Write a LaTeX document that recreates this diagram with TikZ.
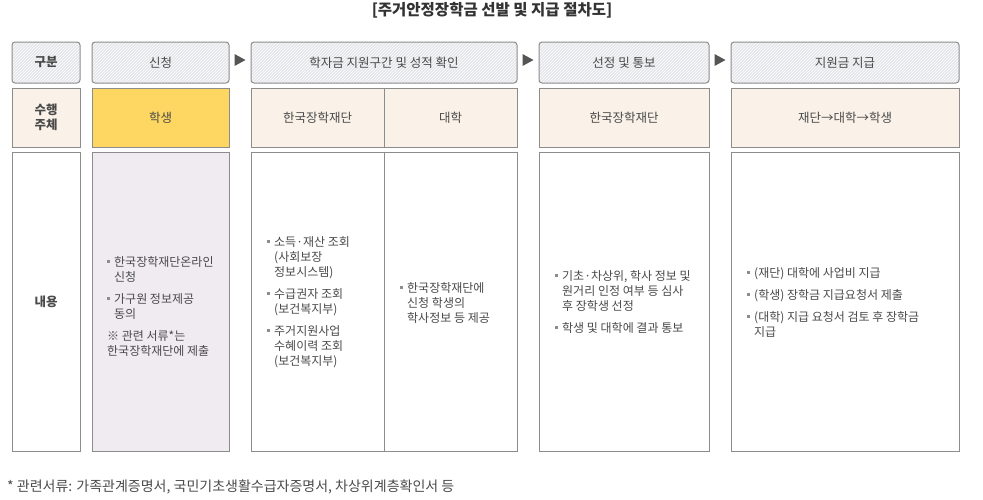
\documentclass[tikz,border=0pt]{standalone}
\usepackage{fontspec}
\setmainfont{Noto Sans CJK KR}
\usetikzlibrary{positioning,patterns,calc}

\definecolor{hdrgray}{HTML}{E4E5EA}
\definecolor{linegray}{HTML}{8C8C8C}
\definecolor{beige}{HTML}{FAF2E8}
\definecolor{stuyellow}{HTML}{FED762}
\definecolor{lavender}{HTML}{F0EBF1}
\definecolor{txtgray}{HTML}{4A4A4A}
\definecolor{tipgray}{HTML}{555555}

\newcommand\blt{\textcolor{linegray}{\rule[3.5pt]{3pt}{3pt}}\hspace{4pt}}
\newcommand\ind{\hspace*{7pt}}

\begin{document}
\begin{tikzpicture}[x=1pt, y=-1pt, font=\fontsize{12}{15}\selectfont, text=txtgray]

  \tikzstyle{cell}=[draw=linegray, line width=1pt, inner sep=0pt, align=center]
  \tikzstyle{hdr}=[cell, rounded corners=3pt, minimum height=41,
    font=\fontsize{12.5}{15}\selectfont,
    preaction={fill=hdrgray},
    pattern=north east lines, pattern color=white]
  \tikzstyle{who}=[cell, fill=beige, minimum height=59, font=\fontsize{12.5}{14.5}\selectfont]
  \tikzstyle{body}=[cell, fill=white, minimum height=299, font=\fontsize{12.5}{15}\selectfont]
  \tikzstyle{list}=[inner sep=0pt, anchor=west, align=left]
  \tikzstyle{tip}=[fill=tipgray]

  \useasboundingbox (0,0) rectangle (983,499);

  \node [font=\fontsize{15.5}{17}\selectfont\bfseries, text=black!80] (title) at (492,10)
    {[주거안정장학금 선발 및 지급 절차도]};

  % header row
  \node [hdr, minimum width=68, font=\fontsize{12.5}{15}\selectfont\bfseries] (hgubun) at (46,62.5) {구분};
  \node [hdr, minimum width=137] (happly) at (160.5,62.5) {신청};
  \node [hdr, minimum width=266] (hcheck) at (384,62.5) {학자금 지원구간 및 성적 확인};
  \node [hdr, minimum width=170] (hselect) at (624,62.5) {선정 및 통보};
  \node [hdr, minimum width=228] (hpay) at (845,62.5) {지원금 지급};

  \foreach \l/\r in {happly/hcheck, hcheck/hselect, hselect/hpay}
    \fill [tip] ($(\l.east)!0.5!(\r.west)$) ++(-5.5,-8.5) -- ++(11,6) -- ++(-11,6) -- cycle;

  % who row
  \node [who, minimum width=68, font=\fontsize{12.5}{14.5}\selectfont\bfseries] (wgubun) at (46,117.5) {수행\\주체};
  \node [who, fill=stuyellow, minimum width=137] (wapply) at (160.5,117.5) {학생};
  \node [who, minimum width=133] (wkosaf) at (317.5,117.5) {한국장학재단};
  \node [who, minimum width=133] (wuniv) at (450.5,117.5) {대학};
  \node [who, minimum width=170] (wselect) at (624,117.5) {한국장학재단};
  \node [who, minimum width=228] (wpay) at (845,117.5) {재단→대학→학생};

  % body row
  \node [body, minimum width=68, font=\fontsize{12.5}{15}\selectfont\bfseries] (bgubun) at (46,301.5) {내용};
  \node [body, fill=lavender, minimum width=137] (bapply) at (160.5,301.5) {};
  \node [body, minimum width=133] (bkosaf) at (317.5,301.5) {};
  \node [body, minimum width=133] (buniv) at (450.5,301.5) {};
  \node [body, minimum width=170] (bselect) at (624,301.5) {};
  \node [body, minimum width=228] (bpay) at (845,301.5) {};

  \node [list] (lapply) at (107,306) {
    \blt 한국장학재단온라인\\ \ind 신청\\[7pt]
    \blt 가구원 정보제공\\ \ind 동의\\[7pt]
    ※ 관련 서류*는\\
    한국장학재단에 제출};

  \node [list] (lkosaf) at (267,302) {
    \blt 소득·재산 조회\\ \ind (사회보장\\ \ind 정보시스템)\\[7pt]
    \blt 수급권자 조회\\ \ind (보건복지부)\\[7pt]
    \blt 주거지원사업\\ \ind 수혜이력 조회\\ \ind (보건복지부)};

  \node [list] (luniv) at (400,303) {
    \blt 한국장학재단에\\ \ind 신청 학생의\\ \ind 학사정보 등 제공};

  \node [list] (lselect) at (555,302) {
    \blt 기초·차상위, 학사 정보 및\\ \ind 원거리 인정 여부 등 심사\\ \ind 후 장학생 선정\\[7pt]
    \blt 학생 및 대학에 결과 통보};

  \node [list] (lpay) at (747,302) {
    \blt (재단) 대학에 사업비 지급\\[7pt]
    \blt (학생) 장학금 지급요청서 제출\\[7pt]
    \blt (대학) 지급 요청서 검토 후 장학금\\ \ind 지급};

  \node [list, font=\fontsize{14}{16}\selectfont] (note) at (7,487)
    {* 관련서류: 가족관계증명서, 국민기초생활수급자증명서, 차상위계층확인서 등};

\end{tikzpicture}
\end{document}
